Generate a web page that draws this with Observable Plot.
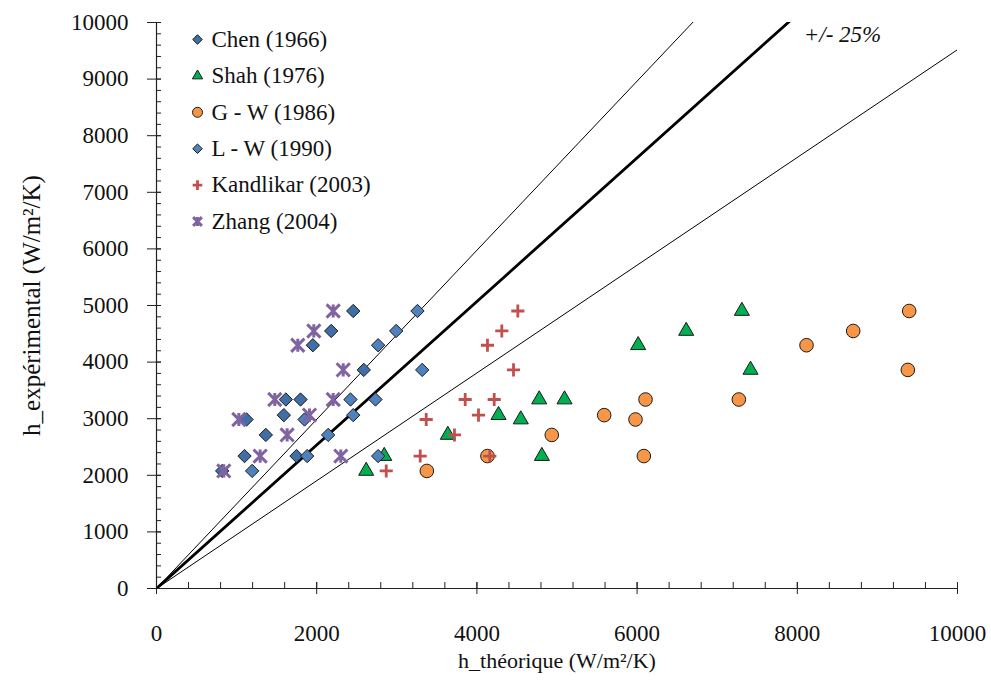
<!DOCTYPE html>
<html><head><meta charset="utf-8">
<script src="https://cdn.jsdelivr.net/npm/d3@7"></script>
<script src="https://cdn.jsdelivr.net/npm/@observablehq/plot@0.6"></script>
<style>
body{margin:0;background:#fff}
#chart svg, #chart svg text { font-family: "Liberation Serif", "Times New Roman", serif !important; }
</style>
</head><body><div id="chart"></div>
<script>
// Experimental values (shared by every correlation)
const hExp = [4903, 4550, 4298, 3862, 3339, 3339, 3063, 2986, 2713, 2340, 2340, 2077];
// Theoretical values, one list per correlation (same order as hExp)
const chenTheo  = [2456, 2181, 1952, 2588, 1615, 1798, 1590, 1124, 1365, 1099, 1748, 820];
const shahTheo  = [7308, 6613, 6013, 7416, 4778, 5094, 4270, 4548, 3637, 2843, 4811, 2618];
const gwTheo    = [9397, 8698, 8115, 9380, 6105, 7270, 5589, 5980, 4935, 4132, 6084, 3375];
const lwTheo    = [3258, 2992, 2767, 3317, 2422, 2734, 2456, 1848, 2143, 1881, 2767, 1194];
const kandTheo  = [4511, 4311, 4132, 4457, 3854, 4216, 4020, 3367, 3720, 3292, 4161, 2868];
const zhangTheo = [2206, 1964, 1764, 2331, 1477, 2206, 1910, 1028, 1631, 1294, 2301, 840];

const seriesNames = ["Chen (1966)", "Shah (1976)", "G - W (1986)", "L - W (1990)", "Kandlikar (2003)", "Zhang (2004)"];
const seriesTheo = [chenTheo, shahTheo, gwTheo, lwTheo, kandTheo, zhangTheo];

// Guide lines through the origin (slopes as drawn)
const guideSlopes = [1.494, 1.268, 0.952];
const bandLabel = "+/- 25%";

const xMajorTicks = d3.range(0, 10001, 2000);
const xMinorTicks = d3.range(0, 10001, 400);
const yMajorTicks = d3.range(0, 10001, 1000);
const yMinorTicks = d3.range(0, 10001, 200);
const xTitle = "h_théorique (W/m²/K)";
const yTitle = "h_expérimental (W/m²/K)";

const FONT = "Liberation Serif";
const FS = 23;

// Excel-like star marker: X plus vertical bar
const asterisk = {
  draw(ctx, size) {
    const r = Math.sqrt(size / Math.PI);
    ctx.moveTo(-r, -r); ctx.lineTo(r, r);
    ctx.moveTo(r, -r); ctx.lineTo(-r, r);
    ctx.moveTo(0, -r); ctx.lineTo(0, r);
  }
};

const styles = [
  {symbol: "diamond2", fill: "#3f6fa6", stroke: "#1a1a1a", strokeWidth: 1, r: 6.0, lr: 4.3},
  {symbol: "triangle", fill: "#00b050", stroke: "#1a1a1a", strokeWidth: 1, r: 5.6, lr: 3.8},
  {symbol: "circle",   fill: "#f79646", stroke: "#1a1a1a", strokeWidth: 1, r: 6.8, lr: 5.0},
  {symbol: "diamond2", fill: "#4f81bd", stroke: "#1a1a1a", strokeWidth: 1, r: 6.0, lr: 4.3},
  {symbol: "plus",     fill: "none", stroke: "#c0504d", strokeWidth: 2.8, r: 4.3, lr: 3.2},
  {symbol: asterisk,   fill: "none", stroke: "#8064a2", strokeWidth: 3, r: 6.6, lr: 4.4}
];

const points = seriesNames.map((name, i) =>
  seriesTheo[i].map((x, j) => ({series: name, x, y: hExp[j]})));

const guides = guideSlopes.map((s, k) => [{k, x: 0, y: 0}, {k, x: 10000, y: s * 10000}]);

const txt = {fontFamily: FONT, fontSize: FS, fill: "#111"};

const marks = [];
// guide lines
marks.push(Plot.line(guides[0], {x: "x", y: "y", stroke: "#000", strokeWidth: 1, clip: true}));
marks.push(Plot.line(guides[2], {x: "x", y: "y", stroke: "#000", strokeWidth: 1, clip: true}));
marks.push(Plot.line(guides[1], {x: "x", y: "y", stroke: "#000", strokeWidth: 2.8, clip: true}));

// axes (lines + ticks)
marks.push(Plot.ruleX([0], {stroke: "#222", strokeWidth: 1.2}));
marks.push(Plot.ruleY([0], {stroke: "#222", strokeWidth: 1.2}));
marks.push(Plot.axisY({ticks: yMajorTicks, tickSize: 14, dx: 5, tickFormat: () => "", label: null, stroke: "#222"}));
marks.push(Plot.axisY({ticks: yMinorTicks, tickSize: 5, dx: 5, tickFormat: () => "", label: null, stroke: "#222"}));
marks.push(Plot.axisX({ticks: xMajorTicks, tickSize: 12, dy: -6, tickFormat: () => "", label: null, stroke: "#222"}));
marks.push(Plot.axisX({ticks: xMinorTicks, tickSize: 6, dy: -6, tickFormat: () => "", label: null, stroke: "#222"}));
// tick labels
marks.push(Plot.text(yMajorTicks, {y: d => d, frameAnchor: "left", dx: -28, text: d => String(d), textAnchor: "end", lineAnchor: "middle", ...txt}));
marks.push(Plot.text(xMajorTicks, {x: d => d, frameAnchor: "bottom", dy: 45, text: d => String(d), textAnchor: "middle", lineAnchor: "middle", ...txt}));

// data points
points.forEach((pts, i) => {
  const s = styles[i];
  marks.push(Plot.dot(pts, {x: "x", y: "y", symbol: () => s.symbol, r: s.r, fill: s.fill, stroke: s.stroke, strokeWidth: s.strokeWidth}));
});

// legend
seriesNames.forEach((name, i) => {
  const s = styles[i];
  const dy = 17 + i * 36.4;
  marks.push(Plot.dot([name], {frameAnchor: "top-left", dx: 41, dy, symbol: () => s.symbol, r: s.lr, fill: s.fill, stroke: s.stroke, strokeWidth: s.strokeWidth}));
  marks.push(Plot.text([name], {frameAnchor: "top-left", dx: 55, dy, text: d => d, textAnchor: "start", lineAnchor: "middle", ...txt}));
});

marks.push(Plot.text([bandLabel], {frameAnchor: "top-right", dx: -115, dy: 12, text: d => d, fontStyle: "italic", textAnchor: "middle", lineAnchor: "middle", ...txt}));
marks.push(Plot.text([xTitle], {frameAnchor: "bottom", dy: 72, text: d => d, textAnchor: "middle", lineAnchor: "middle", ...txt, fontSize: 22}));
marks.push(Plot.text([yTitle], {frameAnchor: "left", dx: -125, rotate: -90, text: d => d, textAnchor: "middle", lineAnchor: "middle", ...txt, fontSize: 25}));

const chart = Plot.plot({
  width: 991, height: 683,
  marginLeft: 156, marginRight: 34, marginTop: 22, marginBottom: 95,
  x: {domain: [0, 10000], axis: null},
  y: {domain: [0, 10000], axis: null},
  style: {background: "#fff", color: "#111", fontSize: FS + "px"},
  marks
});
document.getElementById("chart").appendChild(chart);
</script>
</body></html>
